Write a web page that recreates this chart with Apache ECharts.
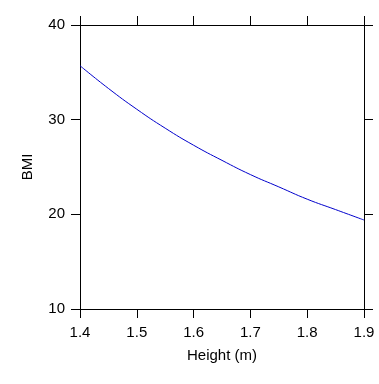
<!DOCTYPE html>
<html>
<head>
<meta charset="utf-8">
<script src="https://cdn.jsdelivr.net/npm/echarts@6/dist/echarts.min.js"></script>
<style>
  html, body { margin: 0; padding: 0; background: #fff; }
  #main { width: 379px; height: 384px; }
</style>
</head>
<body>
<div id="main"></div>
<script>
  // heights (m) and BMI
  var heights = [1.40, 1.45, 1.50, 1.55, 1.60, 1.65, 1.70, 1.75, 1.80, 1.85, 1.90];
  var bmi = [35.7, 33.3, 31.1, 29.1, 27.3, 25.7, 24.2, 22.9, 21.6, 20.5, 19.4];

  var font = 'Liberation Sans, Arial, sans-serif';
  var chart = echarts.init(document.getElementById('main'));

  var lineAxis = { show: true, lineStyle: { color: '#000', width: 1 } };
  var tickOut = { show: true, inside: false, length: 9, lineStyle: { color: '#000', width: 1 } };

  var option = {
    animation: false,
    grid: { left: 80, top: 25, right: 15, bottom: 75 },
    xAxis: [
      {
        type: 'value', position: 'bottom', min: 1.4, max: 1.9, interval: 0.1,
        name: 'Height (m)', nameLocation: 'middle', nameGap: 39,
        nameTextStyle: { fontFamily: font, fontSize: 15, color: '#000' },
        axisLine: lineAxis, axisTick: tickOut, splitLine: { show: false },
        axisLabel: { margin: 16, fontFamily: font, fontSize: 15, color: '#000',
          formatter: function (v) { return v.toFixed(1); } }
      },
      {
        type: 'value', position: 'top', min: 1.4, max: 1.9, interval: 0.1,
        axisLine: lineAxis, axisTick: tickOut, splitLine: { show: false },
        axisLabel: { show: false }
      }
    ],
    yAxis: [
      {
        type: 'value', position: 'left', min: 10, max: 40, interval: 10,
        name: 'BMI', nameLocation: 'middle', nameGap: 45,
        nameTextStyle: { fontFamily: font, fontSize: 15, color: '#000' },
        axisLine: lineAxis, axisTick: tickOut, splitLine: { show: false },
        axisLabel: { margin: 15, fontFamily: font, fontSize: 15, color: '#000' }
      },
      {
        type: 'value', position: 'right', min: 10, max: 40, interval: 10,
        axisLine: lineAxis, axisTick: tickOut, splitLine: { show: false },
        axisLabel: { show: false }
      }
    ],
    series: [
      {
        type: 'line', xAxisIndex: 0, yAxisIndex: 0,
        data: heights.map(function (h, i) { return [h, bmi[i]]; }),
        smooth: true, showSymbol: false,
        lineStyle: { color: '#0000cc', width: 1 }
      }
    ]
  };
  chart.setOption(option);
</script>
</body>
</html>
